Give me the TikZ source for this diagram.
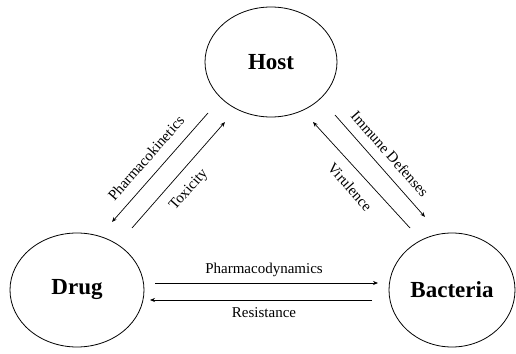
\documentclass[tikz,border=0pt]{standalone}
\usepackage{fontspec}
\setmainfont{Liberation Serif}
\usetikzlibrary{arrows.meta,shapes.geometric}
\begin{document}
\begin{tikzpicture}[x=1pt,y=1pt,
  ent/.style={draw,ellipse,line width=0.8pt,inner sep=0pt,font=\fontsize{23}{26}\selectfont\bfseries},
  lab/.style={font=\fontsize{15}{17}\selectfont,inner sep=0pt},
  arr/.style={line width=0.7pt,-{Stealth[length=5pt,width=4pt]}}]
\useasboundingbox (0,0) rectangle (516,353);
\node[ent,minimum width=132pt,minimum height=110pt] (host) at (271,291) {Host};
\node[ent,minimum width=134pt,minimum height=114pt] (drug) at (77,63) {Drug};
\node[ent,minimum width=126pt,minimum height=114pt] (bact) at (452,63) {Bacteria};
% endpoints
\coordinate (pk1) at (208,240); \coordinate (pk2) at (112,131);
\coordinate (tx1) at (132,125); \coordinate (tx2) at (225,231);
\coordinate (vi1) at (410,125); \coordinate (vi2) at (313,231);
\coordinate (im1) at (335,238); \coordinate (im2) at (425,136);
\coordinate (pd1) at (155,70);  \coordinate (pd2) at (378,70);
\coordinate (rs1) at (372,53);  \coordinate (rs2) at (150,53);
\draw[arr] (pk1) -- (pk2);
\draw[arr] (tx1) -- (tx2);
\draw[arr] (vi1) -- (vi2);
\draw[arr] (im1) -- (im2);
\draw[arr] (pd1) -- (pd2);
\draw[arr] (rs1) -- (rs2);
\node[lab,rotate=48.6] (lpk) at (146,195) {Pharmacokinetics};
\node[lab,rotate=48.6] (ltx) at (189,163) {Toxicity};
\node[lab,rotate=-48.6] (lim) at (390,199) {Immune Defenses};
\node[lab,rotate=-48.6] (lvi) at (350,166) {Virulence};
\node[lab] (lpd) at (264,83) {Pharmacodynamics};
\node[lab] (lrs) at (264,40) {Resistance};
\end{tikzpicture}
\end{document}
